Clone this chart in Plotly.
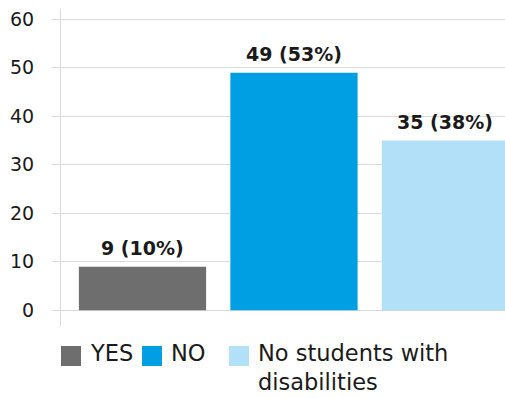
import plotly.graph_objects as go

categories = ["YES", "NO", "No students with<br>disabilities"]
values = [9, 49, 35]
percents = [10, 53, 38]
colors = ["#6e6e6e", "#009fe3", "#b2e0f8"]
y_ticks = [0, 10, 20, 30, 40, 50, 60]

W, H = 505, 398
ML, MR, MT, MB = 61, 0, 9, 72
PW, PH = W - ML - MR, H - MT - MB

def px_x(x):
    return (x - ML) / PW

def px_y(y):
    return (H - MB - y) / PH

GRID = "#dadada"
TXT = "#1a1a1a"
FONT = "DejaVu Sans"

fig = go.Figure()
fig.add_trace(go.Bar(
    x=categories, y=values, marker=dict(color=colors, line=dict(width=0)),
    width=0.84, showlegend=False, hoverinfo="skip",
))

annotations = []
for c, v, p in zip(categories, values, percents):
    annotations.append(dict(
        x=c, y=v, xref="x", yref="y", text=f"<b>{v} ({p}%)</b>",
        showarrow=False, yanchor="bottom", xanchor="center", yshift=6,
        font=dict(family=FONT, size=19, color=TXT),
    ))

# legend (built from the category list)
sq_left = [61, 142, 229]
txt_left = [89, 170, 257]
shapes = []
for i, (c, col) in enumerate(zip(categories, colors)):
    shapes.append(dict(
        type="rect", xref="paper", yref="paper",
        x0=px_x(sq_left[i]), x1=px_x(sq_left[i] + 20),
        y0=px_y(366), y1=px_y(346), fillcolor=col, line=dict(width=0),
    ))
    annotations.append(dict(
        x=px_x(txt_left[i]), y=px_y(339), xref="paper", yref="paper",
        text=c, showarrow=False, xanchor="left", yanchor="top", align="left",
        font=dict(family=FONT, size=22.5, color=TXT), borderpad=0,
    ))

fig.update_layout(
    width=W, height=H,
    margin=dict(l=ML, r=MR, t=MT, b=MB, pad=0),
    paper_bgcolor="white", plot_bgcolor="white",
    showlegend=False,
    xaxis=dict(visible=False, range=[-0.538, 2.393], type="category"),
    yaxis=dict(
        range=[-3.24, 62.12], tickvals=y_ticks, showgrid=True, gridcolor=GRID,
        gridwidth=1, zeroline=False, showline=True, linecolor=GRID, linewidth=1,
        ticks="outside", ticklen=8, tickcolor=GRID, tickwidth=1,
        ticklabelstandoff=14,
        tickfont=dict(family=FONT, size=19, color=TXT),
    ),
    shapes=shapes,
    annotations=annotations,
)

fig.write_html(
    "out.html",
    config={"displayModeBar": False, "staticPlot": True},
    post_script="document.body.style.margin='0';document.body.style.overflow='hidden';",
)
